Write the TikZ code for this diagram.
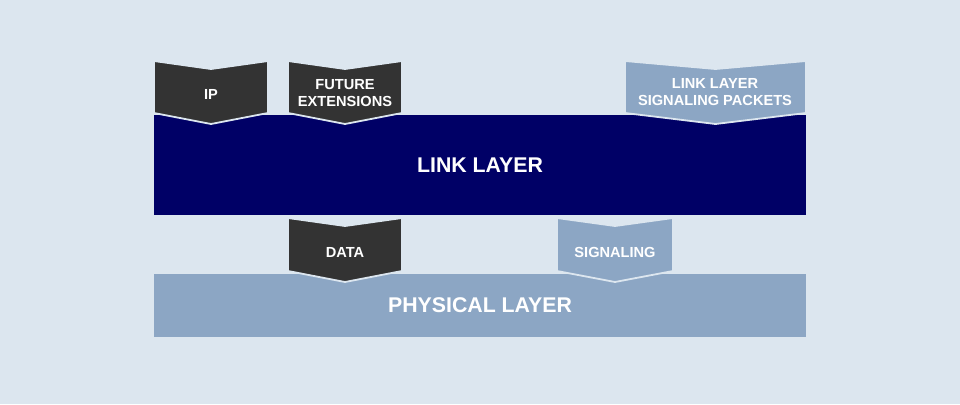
\documentclass[tikz,border=0pt]{standalone}
\usepackage{fontspec}
\setmainfont{Liberation Sans}
\usepackage{xcolor}
\usepackage{tikz}
\usetikzlibrary{calc}
\definecolor{page}{HTML}{DCE6EF}
\definecolor{slate}{HTML}{333333}
\definecolor{deep}{HTML}{000066}
\definecolor{steel}{HTML}{8CA6C4}

\tikzset{
  layerbox/.style={fill=#1, draw=none},
  chevbox/.style={fill=#1, draw=page, line width=1.8pt, line join=miter},
  tag/.style={font=\bfseries\color{white}\fontsize{14.6}{17.5}\selectfont, align=center},
  big/.style={font=\bfseries\color{white}\fontsize{21.3}{25}\selectfont}
}

% chevron: left x, right x, top y, bottom y, colour
\newcommand\chev[5]{%
  \filldraw[chevbox=#5] (#1,#3) -- ({0.5*(#1+#2)},#3+8) -- (#2,#3)
    -- (#2,#4) -- ({0.5*(#1+#2)},#4+11) -- (#1,#4) -- cycle;}

\begin{document}
\begin{tikzpicture}[x=1pt, y=-1pt]
  \fill[page] (0,0) rectangle (960,404);
  \useasboundingbox (0,0) rectangle (960,404);

  % layers
  \fill[layerbox=deep] (154,115) rectangle (806,215);
  \node[big] (link) at (480,165) {LINK LAYER};
  \fill[layerbox=steel] (154,274) rectangle (806,337);
  \node[big] (phy) at (480,305) {PHYSICAL LAYER};

  % upper inputs
  \chev{154}{268}{61}{113}{slate}
  \node[tag] (ip) at (211,94) {IP};
  \chev{288}{402}{61}{113}{slate}
  \node[tag] (future) at (345,93) {FUTURE\\EXTENSIONS};
  \chev{625}{806}{61}{113}{steel}
  \node[tag] (lls) at (715,92) {LINK LAYER\\SIGNALING PACKETS};

  % lower outputs
  \chev{288}{402}{218}{271}{slate}
  \node[tag] (data) at (345,252) {DATA};
  \chev{557}{673}{218}{271}{steel}
  \node[tag] (sig) at (615,252) {SIGNALING};
\end{tikzpicture}
\end{document}
